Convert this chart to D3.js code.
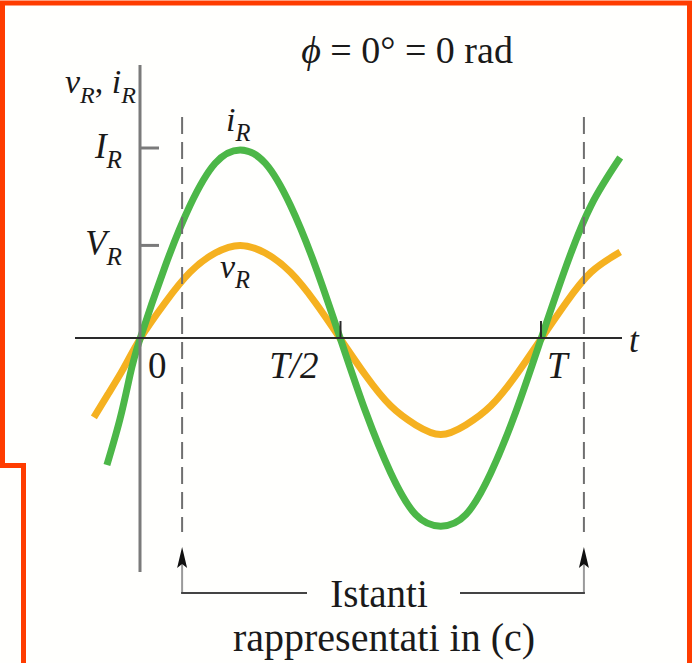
<!DOCTYPE html>
<html>
<head>
<meta charset="utf-8">
<script src="https://cdn.jsdelivr.net/npm/d3@7"></script>
<style>
  html, body { margin: 0; padding: 0; background: #fffffd; }
  svg { display: block; }
  text { font-family: "Liberation Serif", "Times New Roman", serif; fill: #1a1a1a; }
</style>
</head>
<body>
<script>
// Resistor current and voltage over one period, phase difference 0.
// Time in units of the period T, values in units of the current amplitude I_R.
const iR_time  = [-0.0825, -0.05, -0.025, 0, 0.0625, 0.125, 0.1875, 0.25, 0.3125, 0.375, 0.4375, 0.5,
                  0.5625, 0.625, 0.6875, 0.75, 0.8125, 0.875, 0.9375, 1, 1.0625, 1.125, 1.1975];
const iR_value = [-0.66, -0.42, -0.19, 0, 0.38, 0.70, 0.92, 0.99, 0.92, 0.70, 0.38, 0,
                  -0.38, -0.70, -0.92, -0.98, -0.92, -0.70, -0.38, 0, 0.38, 0.70, 0.95];

const vR_time  = [-0.115, -0.08, -0.04, 0, 0.0625, 0.125, 0.1875, 0.25, 0.3125, 0.375, 0.4375, 0.5,
                  0.5625, 0.625, 0.6875, 0.75, 0.8125, 0.875, 0.9375, 1, 1.0625, 1.125, 1.1975];
const vR_value = [-0.41, -0.29, -0.15, 0, 0.19, 0.35, 0.45, 0.49, 0.45, 0.35, 0.19, 0,
                  -0.19, -0.35, -0.45, -0.50, -0.45, -0.35, -0.19, 0, 0.19, 0.35, 0.455];

// Amplitude marks on the vertical axis
const yTickNames  = ["I", "V"];
const yTickValues = [1, 0.49];

// Marks on the time axis
const xTickLabels = ["0", "T/2", "T"];
const xTickValues = [0, 0.5, 1];

// Instants picked out by the dashed lines
const instants = [0.105, 1.107];

const W = 693, H = 663;
const svg = d3.select("body").append("svg").attr("width", W).attr("height", H);

svg.append("rect").attr("width", W).attr("height", H).attr("fill", "#fffffd");

const x = d3.scaleLinear().domain([0, 1]).range([140, 541]);
const y = d3.scaleLinear().domain([0, 1]).range([339, 148]);

const line = d3.line()
  .x(d => x(d[0]))
  .y(d => y(d[1]))
  .curve(d3.curveNatural);

const vData = d3.zip(vR_time, vR_value);
const iData = d3.zip(iR_time, iR_value);

svg.append("path").datum(vData).attr("d", line)
  .attr("fill", "none").attr("stroke", "#f5b120").attr("stroke-width", 7);
svg.append("path").datum(iData).attr("d", line)
  .attr("fill", "none").attr("stroke", "#4cb748").attr("stroke-width", 7);

// Vertical axis
svg.append("line")
  .attr("x1", x(0)).attr("x2", x(0)).attr("y1", 65).attr("y2", 572)
  .attr("stroke", "#7a7a7a").attr("stroke-width", 3);

// Horizontal (time) axis
svg.append("line")
  .attr("x1", 75).attr("x2", 622).attr("y1", y(0) - 1).attr("y2", y(0) - 1)
  .attr("stroke", "#2a2a2a").attr("stroke-width", 2);

// Subscripted italic symbol such as I_R
function symbol(sel, main, sub, size) {
  sel.style("font-size", size + "px").style("font-style", "italic");
  sel.append("tspan").text(main);
  sel.append("tspan").attr("dy", size * 0.28).style("font-size", (size * 0.72) + "px").text(sub);
  return sel;
}

// Amplitude ticks and labels
yTickValues.forEach((v, k) => {
  svg.append("line")
    .attr("x1", x(0)).attr("x2", x(0) + 19)
    .attr("y1", y(v)).attr("y2", y(v))
    .attr("stroke", "#7a7a7a").attr("stroke-width", 3);
  symbol(svg.append("text")
    .attr("x", x(0) - 18).attr("y", y(v) + 10)
    .attr("text-anchor", "end"), yTickNames[k], "R", 35);
});

// Time-axis ticks and labels
xTickValues.forEach((v, k) => {
  if (v > 0) {
    svg.append("line")
      .attr("x1", x(v)).attr("x2", x(v))
      .attr("y1", y(0) - 18).attr("y2", y(0) - 1)
      .attr("stroke", "#2a2a2a").attr("stroke-width", 2);
  }
  const lbl = xTickLabels[k];
  const anchor = v === 0.5 ? "end" : "start";
  const dx = v === 0 ? 8 : (v === 0.5 ? -22 : 6);
  svg.append("text")
    .attr("x", x(v) + dx).attr("y", 378)
    .attr("text-anchor", anchor)
    .style("font-size", "37px")
    .style("font-style", lbl === "0" ? "normal" : "italic")
    .text(lbl);
});

svg.append("text")
  .attr("x", 629).attr("y", 352)
  .style("font-size", "35px").style("font-style", "italic")
  .text("t");

// Axis name
const yName = svg.append("text")
  .attr("x", 65).attr("y", 93)
  .style("font-size", "34px").style("font-style", "italic");
yName.append("tspan").text("v");
yName.append("tspan").attr("dy", 10).style("font-size", "24px").text("R");
yName.append("tspan").attr("dy", -10).style("font-style", "normal").text(", ");
yName.append("tspan").text("i");
yName.append("tspan").attr("dy", 10).style("font-size", "24px").text("R");

// Curve names
symbol(svg.append("text").attr("x", 226).attr("y", 131), "i", "R", 34);
symbol(svg.append("text").attr("x", 220).attr("y", 278), "v", "R", 34);

// Phase statement
const title = svg.append("text")
  .attr("x", 407).attr("y", 63)
  .attr("text-anchor", "middle")
  .style("font-size", "38px");
title.append("tspan").style("font-style", "italic").text("\u03D5");
title.append("tspan").text(" = 0\u00B0 = 0 rad");

// Dashed instants with arrows to the caption
instants.forEach(v => {
  const xi = x(v);
  svg.append("line")
    .attr("x1", xi).attr("x2", xi).attr("y1", 117).attr("y2", 532)
    .attr("stroke", "#6f6f6f").attr("stroke-width", 2)
    .attr("stroke-dasharray", "17,8");
  svg.append("line")
    .attr("x1", xi).attr("x2", xi).attr("y1", 562).attr("y2", 593)
    .attr("stroke", "#9a9a9a").attr("stroke-width", 2);
  svg.append("path")
    .attr("d", `M${xi},547 L${xi + 5},568 L${xi},564 L${xi - 5},568 Z`)
    .attr("fill", "#111");
});

svg.append("line")
  .attr("x1", x(instants[0]) - 1).attr("x2", 307).attr("y1", 593).attr("y2", 593)
  .attr("stroke", "#444").attr("stroke-width", 2);
svg.append("line")
  .attr("x1", 460).attr("x2", x(instants[1]) + 1).attr("y1", 593).attr("y2", 593)
  .attr("stroke", "#444").attr("stroke-width", 2);

svg.append("text")
  .attr("x", 379).attr("y", 607)
  .attr("text-anchor", "middle")
  .style("font-size", "39px")
  .text("Istanti");
svg.append("text")
  .attr("x", 384).attr("y", 651)
  .attr("text-anchor", "middle")
  .style("font-size", "40px")
  .text("rappresentati in (c)");

// Frame
svg.append("path")
  .attr("d", "M23.5,663 L23.5,465.5 L2.5,465.5 L2.5,3 L689.5,3 L689.5,663")
  .attr("fill", "none").attr("stroke", "#ff3c00").attr("stroke-width", 5);
</script>
</body>
</html>
